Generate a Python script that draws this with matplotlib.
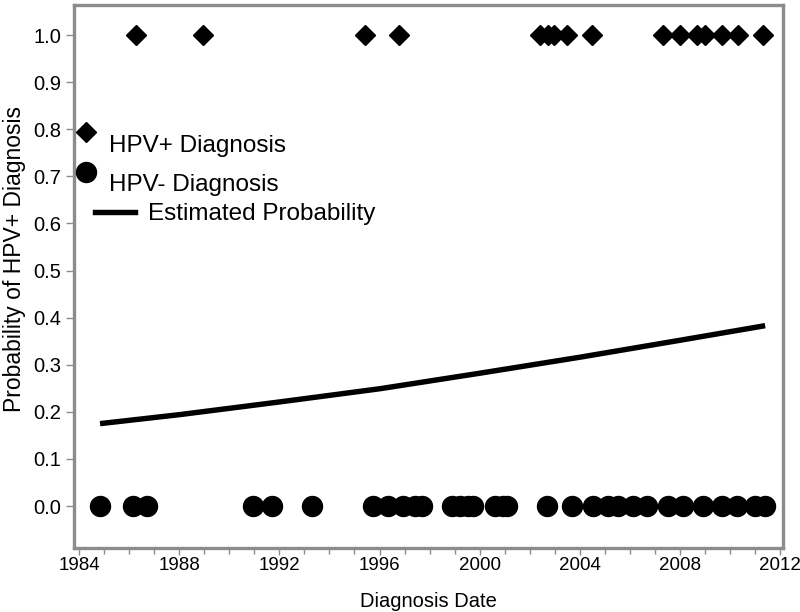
import matplotlib
matplotlib.use("Agg")
import matplotlib.pyplot as plt
from matplotlib.lines import Line2D
from matplotlib.legend_handler import HandlerLine2D
from matplotlib.transforms import Affine2D
from matplotlib.ticker import MultipleLocator, FormatStrFormatter

# ---- data ----
hpv_pos_dates = [1986.28, 1988.96, 1995.44, 1996.76, 2002.40, 2002.72, 2002.96,
                 2003.48, 2004.48, 2007.32, 2008.00, 2008.68, 2009.00, 2009.68,
                 2010.32, 2011.32]
hpv_pos_values = [1.0] * len(hpv_pos_dates)

hpv_neg_dates = [1984.84, 1986.16, 1986.72, 1990.96, 1991.72, 1993.32, 1995.72,
                 1996.32, 1996.92, 1997.40, 1997.68, 1998.88, 1999.20, 1999.52,
                 1999.72, 2000.60, 2000.92, 2001.08, 2002.68, 2003.68, 2004.52,
                 2005.12, 2005.52, 2006.12, 2006.68, 2007.52, 2008.12, 2008.92,
                 2009.68, 2010.28, 2011.00, 2011.40]
hpv_neg_values = [0.0] * len(hpv_neg_dates)

est_dates = [1984.84, 1988.0, 1992.0, 1996.0, 2000.0, 2004.0, 2008.0, 2011.40]
est_prob = [0.175, 0.194, 0.221, 0.249, 0.282, 0.316, 0.352, 0.383]

x_ticks = [1984, 1988, 1992, 1996, 2000, 2004, 2008, 2012]

plt.rcParams["font.family"] = ["Liberation Sans", "DejaVu Sans"]

gray = "#8c8c8c"


class RaisedMarkerHandler(HandlerLine2D):
    """Draws the legend marker a little above the label centre (as in the reference)."""
    def __init__(self, dy_px, **kw):
        super().__init__(**kw)
        self.dy_px = dy_px

    def create_artists(self, legend, orig_handle, xdescent, ydescent, width,
                       height, fontsize, trans):
        t = trans + Affine2D().translate(0, self.dy_px)
        return super().create_artists(legend, orig_handle, xdescent, ydescent,
                                      width, height, fontsize, t)


fig = plt.figure(figsize=(8.0, 6.12), dpi=100)
ax = fig.add_axes([0.0925, 0.1046, 0.8865, 0.8874])

ax.plot(est_dates, est_prob, color="black", lw=3.9, solid_capstyle="butt", zorder=2)
ax.plot(hpv_pos_dates, hpv_pos_values, linestyle="none", marker="D", ms=10,
        color="black", zorder=3)
ax.plot(hpv_neg_dates, hpv_neg_values, linestyle="none", marker="o", ms=14.4,
        color="black", zorder=3)

ax.set_xlim(1983.8, 2012.12)
ax.set_ylim(-0.089, 1.064)

ax.set_xticks(x_ticks)
ax.xaxis.set_minor_locator(MultipleLocator(1))
ax.yaxis.set_major_locator(MultipleLocator(0.1))
ax.yaxis.set_major_formatter(FormatStrFormatter("%.1f"))

for s in ax.spines.values():
    s.set_color(gray)
    s.set_linewidth(2.4)

ax.tick_params(axis="both", which="both", color=gray, width=1.0, direction="out")
ax.tick_params(axis="x", which="major", length=5, pad=1.5, labelsize=13.5)
ax.tick_params(axis="x", which="minor", length=4)
ax.tick_params(axis="y", which="major", length=6, pad=3, labelsize=14.5)

ax.set_xlabel("Diagnosis Date", fontsize=14.5, labelpad=13)
ax.set_ylabel("Probability of HPV+ Diagnosis", fontsize=16.5)
ax.yaxis.set_label_coords(-0.068, 0.532)

# legend (two parts, as in the reference)
h_pos = Line2D([], [], linestyle="none", marker="D", ms=10, color="black")
h_neg = Line2D([], [], linestyle="none", marker="o", ms=14.4, color="black")
h_est = Line2D([], [], color="black", lw=3.9)
leg1 = ax.legend([h_pos, h_neg], ["HPV+ Diagnosis", "HPV- Diagnosis"],
                 loc="upper left", bbox_to_anchor=(0.0, 0.760), frameon=False,
                 fontsize=17.5, handlelength=1.0, handletextpad=0.45,
                 labelspacing=0.7, borderaxespad=0, borderpad=0,
                 handler_map={h_pos: RaisedMarkerHandler(12),
                              h_neg: RaisedMarkerHandler(11)})
ax.add_artist(leg1)
ax.legend([h_est], ["Estimated Probability"], loc="upper left",
          bbox_to_anchor=(0.0296, 0.635), frameon=False, fontsize=17.5,
          handlelength=1.65, handletextpad=0.55, borderaxespad=0, borderpad=0)

fig.savefig("out.png", dpi=100)
